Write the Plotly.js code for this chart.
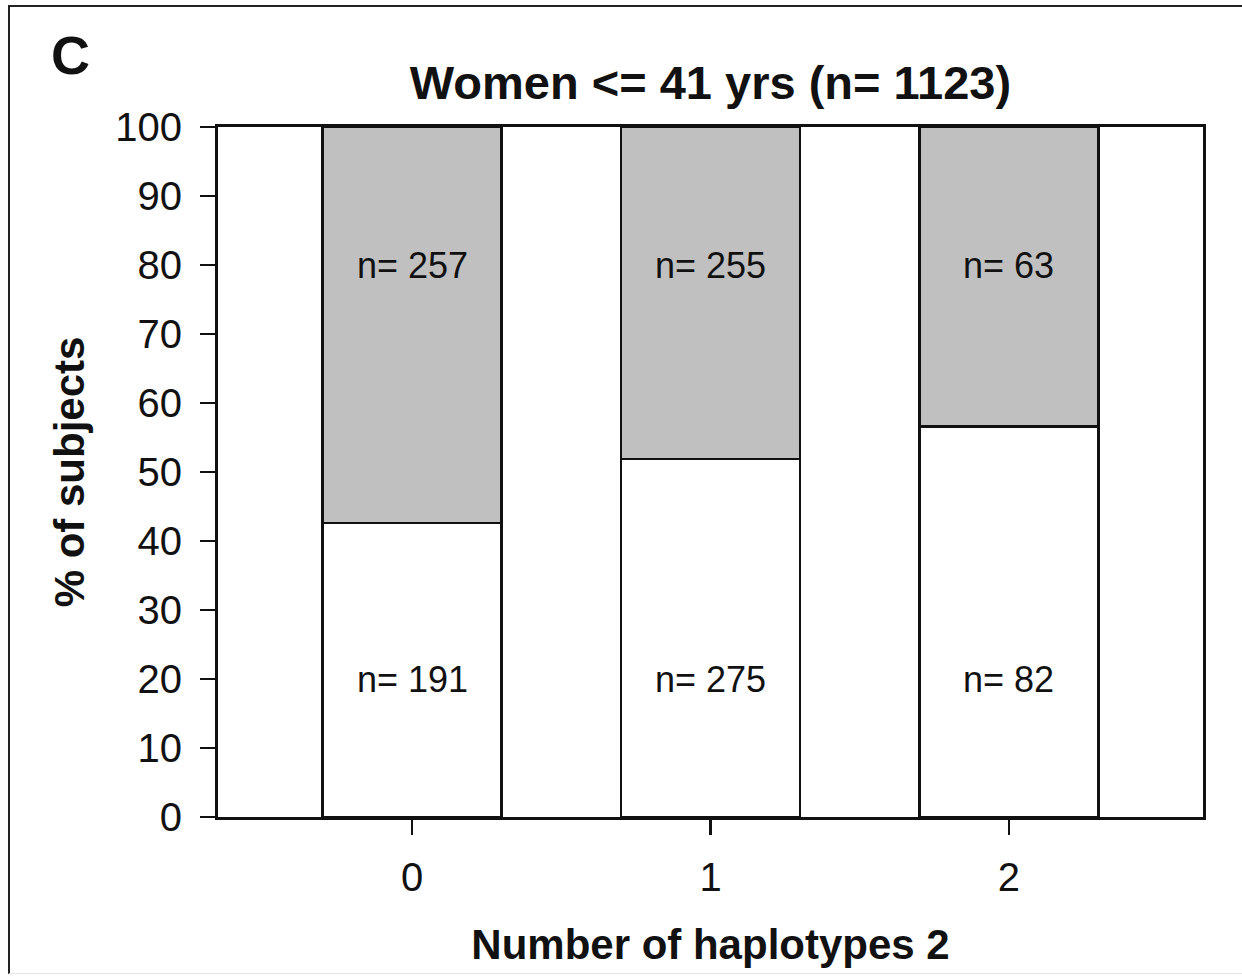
<!DOCTYPE html>
<html>
<head>
<meta charset="utf-8">
<script src="https://cdn.plot.ly/plotly-3.0.1.min.js"></script>
<style>
  html, body { margin: 0; padding: 0; background: #fff; }
  #wrap { position: relative; width: 1242px; height: 976px; overflow: hidden; }
  #chart { position: absolute; left: 0; top: 0; width: 1242px; height: 976px; }
  #frame { position: absolute; left: 8px; top: 5px; width: 1300px; height: 966px;
           border-top: 2px solid #222; border-left: 2px solid #222; border-bottom: 1px solid #e6e6e6; pointer-events: none; }
</style>
</head>
<body>
<div id="wrap">
  <div id="chart"></div>
  <div id="frame"></div>
</div>
<script>
// Data
const categories = [0, 1, 2];                 // number of haplotypes 2
const pctLower = [42.6, 51.9, 56.6];          // white (bottom) segment, % of subjects
const pctUpper = [57.4, 48.1, 43.4];          // grey (top) segment, % of subjects
const nLower = [191, 275, 82];
const nUpper = [257, 255, 63];
const titleText = 'Women <= 41 yrs (n= 1123)';
const panelLabel = 'C';

const FONT = '"Liberation Sans", Arial, sans-serif';

const traces = [
  {
    type: 'bar', x: categories, y: pctLower, width: 0.6,
    marker: { color: '#ffffff', line: { color: '#111', width: 2.5 } },
    hoverinfo: 'skip', showlegend: false
  },
  {
    type: 'bar', x: categories, y: pctUpper, width: 0.6,
    marker: { color: '#c0c0c0', line: { color: '#111', width: 2.5 } },
    hoverinfo: 'skip', showlegend: false
  }
];

const annotations = [];
categories.forEach((c, i) => {
  annotations.push({ x: c, y: 80, xref: 'x', yref: 'y', text: 'n= ' + nUpper[i], showarrow: false,
    font: { family: FONT, size: 36, color: '#111' } });
  annotations.push({ x: c, y: 20, xref: 'x', yref: 'y', text: 'n= ' + nLower[i], showarrow: false,
    font: { family: FONT, size: 36, color: '#111' } });
});
annotations.push({ x: -0.150, y: 1.104, xref: 'paper', yref: 'paper', text: panelLabel, showarrow: false,
  xanchor: 'center', yanchor: 'middle', font: { family: FONT, size: 54, color: '#111', weight: 'bold' } });

const layout = {
  width: 1242, height: 976,
  margin: { l: 218, r: 39, t: 127, b: 159 },
  paper_bgcolor: '#fff', plot_bgcolor: '#fff',
  barmode: 'stack', bargap: 0,
  title: { text: titleText, x: 0.5, xref: 'paper', xanchor: 'center', y: 1 - 83 / 976, yanchor: 'middle', yref: 'container',
    font: { family: FONT, size: 47, color: '#111', weight: 'bold' } },
  xaxis: {
    type: 'linear', range: [-0.65, 2.65], tickvals: categories, ticktext: categories.map(String),
    ticks: 'outside', ticklen: 15, tickwidth: 2.5, tickcolor: '#111',
    showline: true, linecolor: '#111', linewidth: 3, mirror: true,
    showgrid: false, zeroline: false, ticklabelstandoff: 8,
    tickfont: { family: FONT, size: 40, color: '#111' },
    title: { text: 'Number of haplotypes 2', standoff: 32, font: { family: FONT, size: 42, color: '#111', weight: 'bold' } }
  },
  yaxis: {
    range: [0, 100], tickvals: [0,10,20,30,40,50,60,70,80,90,100],
    ticks: 'outside', ticklen: 15, tickwidth: 2.5, tickcolor: '#111',
    showline: true, linecolor: '#111', linewidth: 3, mirror: true,
    showgrid: false, zeroline: false, ticklabelstandoff: 10,
    tickfont: { family: FONT, size: 40, color: '#111' },
    title: { text: '% of subjects', standoff: 18, font: { family: FONT, size: 42, color: '#111', weight: 'bold' } }
  },
  annotations: annotations,
  font: { family: FONT, color: '#111' }
};

Plotly.newPlot('chart', traces, layout, { staticPlot: true, displayModeBar: false });
</script>
</body>
</html>
